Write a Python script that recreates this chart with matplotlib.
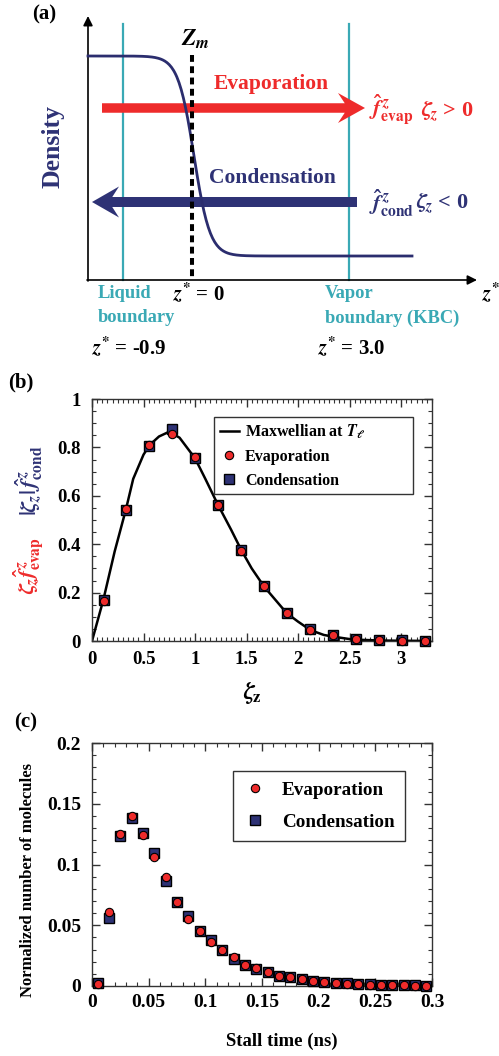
import numpy as np
import matplotlib.pyplot as plt
from matplotlib.patches import FancyArrow
from matplotlib.lines import Line2D
from matplotlib.ticker import MultipleLocator, FormatStrFormatter

plt.rcParams['font.family'] = ['Liberation Serif', 'DejaVu Serif']
plt.rcParams['font.weight'] = 'bold'
plt.rcParams['mathtext.fontset'] = 'stix'

RED = '#ee2b2b'
NAVY = '#2e3275'
TEAL = '#3aa9b5'

# ---- data (b): flux-weighted velocity distribution
zeta_bin = [0.113, 0.329, 0.555, 0.774, 1.0, 1.226, 1.448, 1.671, 1.894,
            2.119, 2.339, 2.565, 2.787, 3.010, 3.232]
evap_b = [0.164, 0.545, 0.808, 0.855, 0.759, 0.564, 0.372, 0.226, 0.114,
          0.046, 0.023, 0.008, 0.004, 0.002, 0.001]
cond_b = [0.168, 0.543, 0.807, 0.874, 0.756, 0.564, 0.378, 0.228, 0.116,
          0.048, 0.025, 0.010, 0.004, 0.003, 0.002]
zeta_line = [0, 0.11, 0.22, 0.33, 0.40, 0.50, 0.56, 0.65, 0.75, 0.85, 1.0,
             1.10, 1.22, 1.35, 1.45, 1.55, 1.67, 1.80, 1.89, 2.0, 2.12, 2.25,
             2.34, 2.50, 2.60, 2.80, 3.0, 3.25]
maxw_line = [0, 0.17, 0.37, 0.545, 0.67, 0.77, 0.81, 0.845, 0.865, 0.84,
             0.755, 0.67, 0.565, 0.46, 0.375, 0.30, 0.225, 0.16, 0.115, 0.08,
             0.045, 0.025, 0.018, 0.008, 0.005, 0.002, 0.001, 0.0005]

# ---- data (c): stall time histogram
stall_t = [0.005, 0.015, 0.025, 0.035, 0.045, 0.055, 0.065, 0.075, 0.085,
           0.095, 0.105, 0.115, 0.125, 0.135, 0.145, 0.155, 0.165, 0.175,
           0.185, 0.195, 0.205, 0.215, 0.225, 0.235, 0.245, 0.255, 0.265,
           0.275, 0.285, 0.295]
evap_c = [0.0017, 0.0606, 0.1248, 0.1399, 0.1240, 0.1063, 0.0898, 0.0694,
          0.0551, 0.0452, 0.0361, 0.0300, 0.0240, 0.0176, 0.0146, 0.0118,
          0.0083, 0.0074, 0.0061, 0.0041, 0.0033, 0.0028, 0.0019, 0.0019,
          0.0011, 0.0008, 0.0006, 0.0006, 0.0003, 0.0003]
cond_c = [0.0022, 0.0559, 0.1234, 0.1386, 0.1256, 0.1091, 0.0868, 0.0694,
          0.0579, 0.0452, 0.0375, 0.0298, 0.0223, 0.0171, 0.0143, 0.0113,
          0.0083, 0.0072, 0.0055, 0.0044, 0.0036, 0.0028, 0.0022, 0.0017,
          0.0014, 0.0011, 0.0008, 0.0006, 0.0006, 0.0003]

W, H = 499, 1056
fig = plt.figure(figsize=(W / 100, H / 100), dpi=100)

# overlay in pixel coordinates for the schematic and free labels
ov = fig.add_axes([0, 0, 1, 1])
ov.set_xlim(0, W)
ov.set_ylim(H, 0)
ov.axis('off')

ZS = r'$\boldsymbol{z}^{*}$'

# ---- (a) schematic
x0, y0 = 88, 280          # origin of schematic axes
liq_x, int_x, vap_x = 123, 192, 349
ap = dict(arrowstyle='-|>', color='k', lw=1.2, mutation_scale=14,
          shrinkA=0, shrinkB=0)
ov.annotate('', xy=(x0, 16), xytext=(x0, y0 + 1), arrowprops=ap)
ov.annotate('', xy=(477, y0), xytext=(x0 - 1, y0), arrowprops=ap)

for xb in (liq_x, vap_x):
    ov.plot([xb, xb], [24, y0], color=TEAL, lw=1.6, zorder=1)

zs = np.linspace(x0, 412, 300)
ov.plot(zs, 156 + 100 * np.tanh((zs - 194) / 16), color='#2b2d6e', lw=2,
        zorder=3)
ov.plot([int_x, int_x], [55, y0], color='k', lw=2.9,
        linestyle=(0, (1.7, 1.1)), zorder=4)

ov.add_patch(FancyArrow(102, 108, 263, 0, width=9.5, head_width=30,
                        head_length=27, length_includes_head=True,
                        overhang=0.25, color=RED, lw=0, zorder=2))
ov.add_patch(FancyArrow(357, 202, -265, 0, width=10, head_width=31,
                        head_length=27, length_includes_head=True,
                        overhang=0.25, color=NAVY, lw=0, zorder=2))

ov.text(271, 84, 'Evaporation', color=RED, fontsize=15.5, ha='center',
        va='center')
ov.text(272, 178, 'Condensation', color=NAVY, fontsize=15.5, ha='center',
        va='center')
ov.text(53, 147, 'Density', color=NAVY, fontsize=18.5, rotation=90,
        ha='center', va='center')
ov.text(195, 39, r'$Z_m$', fontsize=17, ha='center', va='center')
ov.text(369, 110, r'$\widehat{f}^{\,z}_{\mathbf{evap}}$', color=RED,
        fontsize=16, ha='left', va='center')
ov.text(421, 112, r'$\zeta_z$ > 0', color=RED, fontsize=16, ha='left',
        va='center')
ov.text(369, 203, r'$\widehat{f}^{\,z}_{\mathbf{cond}}$', color=NAVY,
        fontsize=16, ha='left', va='center')
ov.text(416, 204, r'$\zeta_z$ < 0', color=NAVY, fontsize=16, ha='left',
        va='center')

ov.text(98, 293, 'Liquid', color=TEAL, fontsize=13.3, va='center')
ov.text(98, 318, 'boundary', color=TEAL, fontsize=13.3, va='center')
ov.text(325, 293, 'Vapor', color=TEAL, fontsize=13.3, va='center')
ov.text(325, 318, 'boundary (KBC)', color=TEAL, fontsize=13.3, va='center')
ov.text(173, 293, ZS + ' = 0', fontsize=15, va='center')
ov.text(482, 293, ZS, fontsize=15, va='center')
ov.text(92, 347, ZS + ' = -0.9', fontsize=15, va='center')
ov.text(318, 347, ZS + ' = 3.0', fontsize=15, va='center')

ov.text(32, 14, '(a)', fontsize=15, va='center')
ov.text(8, 382, '(b)', fontsize=15, va='center')
ov.text(14, 722, '(c)', fontsize=15, va='center')


def style(ax, xmaj, xmin, ymaj, ymin, fs, xpad, ypad):
    for s in ax.spines.values():
        s.set_color('#333333')
        s.set_linewidth(1)
    ax.xaxis.set_major_locator(MultipleLocator(xmaj))
    ax.xaxis.set_minor_locator(MultipleLocator(xmin))
    ax.yaxis.set_major_locator(MultipleLocator(ymaj))
    ax.yaxis.set_minor_locator(MultipleLocator(ymin))
    ax.xaxis.set_major_formatter(FormatStrFormatter('%g'))
    ax.yaxis.set_major_formatter(FormatStrFormatter('%g'))
    ax.tick_params(which='both', direction='in', top=True, right=True,
                   color='#333333')
    ax.tick_params(which='major', length=6, width=1, labelsize=fs)
    ax.tick_params(which='minor', length=3, width=0.8)
    ax.tick_params(axis='x', pad=xpad)
    ax.tick_params(axis='y', pad=ypad)


# ---- (b)
axb = fig.add_axes([92 / W, 1 - 641 / H, 340 / W, 242 / H])
axb.plot(zeta_line, maxw_line, color='k', lw=1.8, zorder=2)
axb.plot(zeta_bin, cond_b, 's', ms=7.2, mfc=NAVY, mec='k', mew=1,
         zorder=3, clip_on=False)
axb.plot(zeta_bin, evap_b, 'o', ms=6, mfc=RED, mec='k', mew=0.8,
         zorder=4, clip_on=False)
axb.set_xlim(0, 3.3)
axb.set_ylim(0, 1)
style(axb, 0.5, 0.05, 0.2, 0.05, 13.5, 7, 8)
hb = [Line2D([], [], color='k', lw=1.8),
      Line2D([], [], ls='', marker='o', ms=6, mfc=RED, mec='k', mew=0.8),
      Line2D([], [], ls='', marker='s', ms=7.2, mfc=NAVY, mec='k', mew=1)]
lb = axb.legend(hb, [r'Maxwellian at $\boldsymbol{T_{\ell}}$', 'Evaporation',
                     'Condensation'],
                loc='upper left', bbox_to_anchor=(0.359, 0.64, 0.585, 0.286),
                mode='expand', borderaxespad=0, fancybox=False,
                edgecolor='#333333', framealpha=1, fontsize=11.5,
                handlelength=1.2, handletextpad=0.4, labelspacing=0.5,
                borderpad=0.35)
lb.get_frame().set_linewidth(1)

ov.text(252, 693, r'$\zeta_{\mathrm{z}}$', fontsize=17, ha='center',
        va='center')
ov.text(29, 566, r'$\zeta_z\widehat{f}^{\,z}_{\mathbf{evap}}$', color=RED,
        fontsize=16, rotation=90, ha='center', va='center')
ov.text(29, 481, r'$|\zeta_z|\,\widehat{f}^{\,z}_{\mathbf{cond}}$',
        color=NAVY, fontsize=16, rotation=90, ha='center', va='center')

# ---- (c)
axc = fig.add_axes([92 / W, 1 - 986 / H, 340 / W, 243 / H])
axc.plot(stall_t, cond_c, 's', ms=7.2, mfc=NAVY, mec='k', mew=1,
         zorder=3, clip_on=False)
axc.plot(stall_t, evap_c, 'o', ms=6, mfc=RED, mec='k', mew=0.8,
         zorder=4, clip_on=False)
axc.set_xlim(0, 0.3)
axc.set_ylim(0, 0.2)
style(axc, 0.05, 0.01, 0.05, 0.01, 14, 6, 8)
hc = [Line2D([], [], ls='', marker='o', ms=6, mfc=RED, mec='k', mew=0.8),
      Line2D([], [], ls='', marker='s', ms=7.2, mfc=NAVY, mec='k', mew=1)]
lc = axc.legend(hc, ['Evaporation', 'Condensation'],
                loc='upper left', bbox_to_anchor=(0.415, 0.885),
                borderaxespad=0, fancybox=False, edgecolor='#333333',
                framealpha=1, fontsize=13.8, handlelength=1.2,
                handletextpad=0.8, labelspacing=0.75, borderpad=0.55)
lc.get_frame().set_linewidth(1)

ov.text(28, 880, 'Normalized number of molecules', fontsize=12,
        rotation=90, ha='center', va='center')
ov.text(282, 1041, 'Stall time (ns)', fontsize=13.5, ha='center',
        va='center')

fig.savefig('out.png', dpi=100)
